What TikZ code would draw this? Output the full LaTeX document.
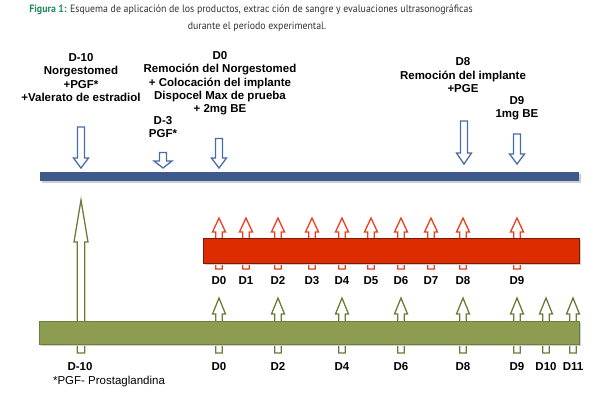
\documentclass[tikz,border=0pt]{standalone}
\usepackage{fontspec}
\setmainfont{Liberation Sans}
\newfontfamily\titlefont{PT Sans}
\definecolor{barblue}{HTML}{3D5A8A}
\definecolor{arrblue}{HTML}{4A6CA8}
\definecolor{barred}{HTML}{DD2C00}
\definecolor{redline}{HTML}{7A1A00}
\definecolor{arrred}{HTML}{E8401C}
\definecolor{bargreen}{HTML}{8C9C50}
\definecolor{greenline}{HTML}{6E7D3C}
\definecolor{arrgreen}{HTML}{6B7B3A}
\definecolor{titlegreen}{HTML}{1E8C5A}
\definecolor{shadowgray}{HTML}{CFCFCF}
\newcommand\hollowarrow[7]{%
  \draw[#1] ({#2-#6},#5) -- ({#2-#6},#4) -- ({#2-#7},#4) -- (#2,#3) --
    ({#2+#7},#4) -- ({#2+#6},#4) -- ({#2+#6},#5) -- cycle;}
\tikzset{
  bluearrow/.style={draw=arrblue, fill=white, line width=1.3pt, line join=miter},
  redarrow/.style={draw=arrred, fill=white, line width=1.3pt, line join=miter},
  greenarrow/.style={draw=arrgreen, fill=white, line width=1.3pt, line join=miter},
  lbl/.style={font=\fontsize{11.5}{13.4}\selectfont\bfseries, inner sep=0pt, align=center},
  daylbl/.style={font=\fontsize{11.5}{13.4}\selectfont\bfseries, inner sep=0pt, anchor=base},
  note/.style={font=\fontsize{11.5}{13.4}\selectfont, inner sep=0pt, anchor=base},
  ttl/.style={font=\titlefont\fontsize{10.6}{12}\selectfont, inner sep=0pt, anchor=base, text=black!80},
}
\begin{document}
\begin{tikzpicture}[x=1pt, y=-1pt]
\useasboundingbox (0,0) rectangle (600,394);
% title
\node[ttl] (title1) at (251,12.5) {\scalebox{0.93}[1]{{\bfseries\color{titlegreen}Figura 1:} Esquema de aplicación de los productos, extrac ción de sangre y evaluaciones ultrasonográficas}};
\node[ttl] (title2) at (257,29.5) {\scalebox{0.93}[1]{durante el período experimental.}};

% blue arrows
\hollowarrow{bluearrow}{81}{168}{158}{127}{3.5}{7.5}
\hollowarrow{bluearrow}{163}{168}{161}{152.5}{3.5}{9}
\hollowarrow{bluearrow}{219}{168}{158}{138.5}{3.5}{7.5}
\hollowarrow{bluearrow}{464}{164}{153}{121}{3.5}{7.5}
\hollowarrow{bluearrow}{517}{164}{154}{134}{3.5}{7.5}
% blue bar
\fill[shadowgray] (42,174) rectangle (581,183);
\node[fill=barblue, inner sep=0pt, minimum width=539pt, minimum height=9pt, anchor=north west] (bluebar) at (40,172) {};

% top labels
\node[lbl, anchor=north] (tD10) at (81,53) {D-10\\Norgestomed\\+PGF*\\+Valerato de estradiol};
\node[lbl, anchor=north] (tD0) at (220,51) {D0\\Remoción del Norgestomed\\+ Colocación del implante\\Dispocel Max de prueba\\+ 2mg BE};
\node[lbl, anchor=north] (tD3) at (163,116) {D-3\\PGF*};
\node[lbl, anchor=north] (tD8) at (463,57.5) {D8\\Remoción del implante\\+PGE};
\node[lbl, anchor=north] (tD9) at (517,96) {D9\\1mg BE};

% red arrows
\foreach \x in {219,246,278,312,342,371,401,431,463,517}
  \hollowarrow{redarrow}{\x}{218}{232}{269}{3.3}{6.5}
% red bar
\fill[shadowgray] (205,240) rectangle (581,265);
\node[fill=barred, draw=redline, line width=0.8pt, inner sep=0pt, minimum width=376pt, minimum height=25pt, anchor=north west] (redbar) at (203,238) {};
\foreach \x/\t in {219/D0,246/D1,278/D2,312/D3,342/D4,371/D5,401/D6,431/D7,463/D8,517/D9}
  \node[daylbl] (r\t) at (\x,284) {\t};

% green arrows
\hollowarrow{greenarrow}{81}{200}{242}{353}{3.7}{7}
\foreach \x in {219,278,342,401,463,517,546,573}
  \hollowarrow{greenarrow}{\x}{298}{314}{353}{3.3}{6.5}
% green bar
\fill[shadowgray] (41,323) rectangle (581,346);
\node[fill=bargreen, draw=greenline, line width=0.5pt, inner sep=0pt, minimum width=540pt, minimum height=23pt, anchor=north west] (greenbar) at (39,321) {};
\foreach \x/\t in {80/D-10,219/D0,278/D2,342/D4,401/D6,463/D8,517/D9,546/D10,573/D11}
  \node[daylbl] (g\t) at (\x,370) {\t};
\node[note] (note) at (109,384) {*PGF- Prostaglandina};
\end{tikzpicture}
\end{document}
